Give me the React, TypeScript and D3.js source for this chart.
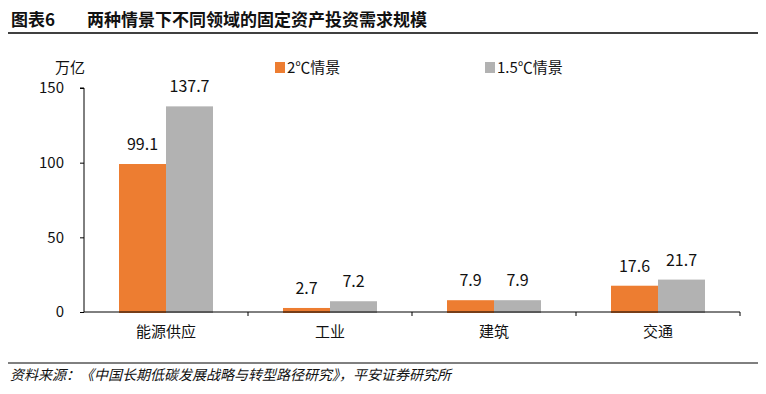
import React, { useRef, useEffect } from 'react';
import * as d3 from 'd3';

const categories = ['能源供应', '工业', '建筑', '交通'];
const seriesNames = ['2℃情景', '1.5℃情景'];
const seriesColors = ['#ED7D31', '#B2B2B2'];
const scenario2C = [99.1, 2.7, 7.9, 17.6];
const scenario15C = [137.7, 7.2, 7.9, 21.7];
const yTicks = [0, 50, 100, 150];

const W = 766;
const H = 394;
const FONT = '"Noto Sans CJK SC", "Noto Sans", sans-serif';

const App = () => {
  const ref = useRef<SVGSVGElement>(null);

  useEffect(() => {
    const svg = d3.select(ref.current);
    svg.selectAll('*').remove();

    // title + rules
    svg.append('text')
      .attr('x', 11).attr('y', 26)
      .attr('font-family', FONT).attr('font-weight', 'bold').attr('font-size', 17)
      .attr('fill', '#111')
      .text('图表6');
    svg.append('text')
      .attr('x', 87).attr('y', 26)
      .attr('font-family', FONT).attr('font-weight', 'bold').attr('font-size', 17)
      .attr('fill', '#111')
      .text('两种情景下不同领域的固定资产投资需求规模');
    svg.append('line')
      .attr('x1', 8).attr('x2', 758).attr('y1', 33).attr('y2', 33)
      .attr('stroke', '#000').attr('stroke-width', 1.5);
    svg.append('line')
      .attr('x1', 8).attr('x2', 758).attr('y1', 363).attr('y2', 363)
      .attr('stroke', '#000').attr('stroke-width', 1);
    svg.append('text')
      .attr('x', 10).attr('y', 380)
      .attr('font-family', FONT).attr('font-size', 14).attr('font-style', 'italic')
      .attr('fill', '#111')
      .text('资料来源：《中国长期低碳发展战略与转型路径研究》，平安证券研究所');

    const x0 = d3.scaleBand().domain(categories).range([84, 740]).paddingInner(0).paddingOuter(0);
    const y = d3.scaleLinear().domain([0, 150]).range([312, 88]);
    const inner = d3.scaleBand().domain(seriesNames).range([0, x0.bandwidth()]).paddingInner(0).paddingOuter(0.745);

    // y axis
    const yAxis = svg.append('g').attr('transform', 'translate(84,0)')
      .call(d3.axisLeft(y).tickValues(yTicks).tickSize(4).tickPadding(16).tickFormat(d3.format('d')));
    yAxis.select('.domain').attr('stroke', '#000').attr('d', `M-4,${y(150)}H0V${y(0)}`);
    yAxis.selectAll('line').attr('stroke', '#000');
    yAxis.selectAll('text').attr('font-family', FONT).attr('font-size', 15).attr('fill', '#111');

    svg.append('text')
      .attr('x', 55).attr('y', 73)
      .attr('font-family', FONT).attr('font-size', 15).attr('fill', '#111')
      .text('万亿');

    const series = [scenario2C, scenario15C];

    series.forEach((vals, si) => {
      svg.append('g').selectAll('rect')
        .data(vals)
        .enter().append('rect')
        .attr('x', (d, i) => x0(categories[i])! + inner(seriesNames[si])!)
        .attr('width', inner.bandwidth())
        .attr('y', d => y(d))
        .attr('height', d => y(0) - y(d) + 1)
        .attr('fill', seriesColors[si]);

      svg.append('g').selectAll('text')
        .data(vals)
        .enter().append('text')
        .attr('x', (d, i) => x0(categories[i])! + inner(seriesNames[si])! + inner.bandwidth() / 2)
        .attr('y', d => y(d) - 14)
        .attr('text-anchor', 'middle')
        .attr('font-family', FONT).attr('font-size', 16).attr('fill', '#111')
        .text(d => d3.format('.1f')(d));
    });

    // x axis
    const xAxis = svg.append('g').attr('transform', `translate(0,${y(0)})`)
      .call(d3.axisBottom(x0).tickSize(0).tickPadding(14));
    xAxis.select('.domain').attr('stroke', '#000').attr('d', `M84,0H740`);
    xAxis.selectAll('text').attr('font-family', FONT).attr('font-size', 15).attr('fill', '#111');
    svg.append('g').selectAll('line')
      .data(categories)
      .enter().append('line')
      .attr('x1', d => x0(d)! + x0.bandwidth()).attr('x2', d => x0(d)! + x0.bandwidth())
      .attr('y1', y(0)).attr('y2', y(0) + 4)
      .attr('stroke', '#000');

    // legend
    const legendX = [275, 485];
    seriesNames.forEach((name, i) => {
      svg.append('rect')
        .attr('x', legendX[i]).attr('y', 62).attr('width', 10).attr('height', 11)
        .attr('fill', seriesColors[i]);
      svg.append('text')
        .attr('x', legendX[i] + 12).attr('y', 73)
        .attr('font-family', FONT).attr('font-size', 15).attr('fill', '#111')
        .text(name);
    });
  }, []);

  return (
    <svg ref={ref} width={W} height={H} style={{ position: 'absolute', left: 0, top: 0, background: '#fff' }} />
  );
};

export default App;
